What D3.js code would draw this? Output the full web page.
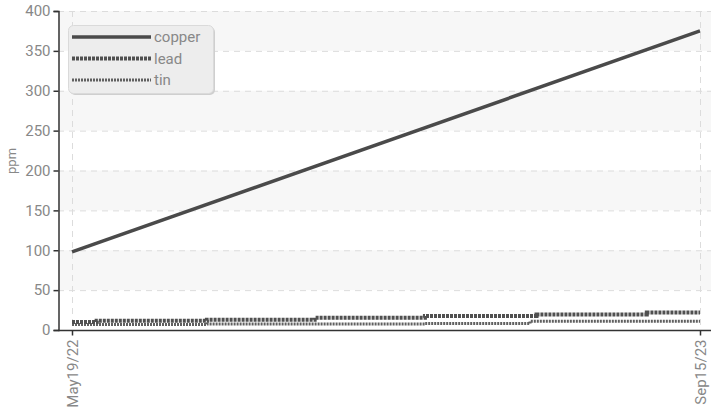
<!DOCTYPE html>
<html>
<head>
<meta charset="utf-8">
<script src="https://cdn.jsdelivr.net/npm/d3@7"></script>
<style>
  body { margin: 0; background: #fff; }
  text { font-family: Roboto, "Liberation Sans Narrow", sans-serif; }
</style>
</head>
<body>
<div id="chart"></div>
<script>
// values
const sampleDates = ["2022-05-19", "2022-06-07", "2022-08-31", "2022-11-22", "2023-02-15", "2023-05-07", "2023-05-12", "2023-08-05", "2023-09-15"];
const leadValues = [10, 11.5, 13, 15.5, 17.5, 17.5, 19.5, 22, 22];
const tinValues = [7, 7, 7.5, 7.5, 8, 11, 11, 11, 11];
const copperDates = ["2022-05-19", "2023-09-15"];
const copperValues = [98, 375];
const yTicks = [0, 50, 100, 150, 200, 250, 300, 350, 400];
const xTickLabels = ["May19/22", "Sep15/23"];
const seriesNames = ["copper", "lead", "tin"];

const parse = d3.timeParse("%Y-%m-%d");

const width = 711, height = 413;
const margin = { left: 58, top: 11, right: 0, bottom: 83 };

const svg = d3.select("#chart").append("svg")
  .attr("width", width)
  .attr("height", height);

const x = d3.scaleTime()
  .domain([parse(copperDates[0]), parse(copperDates[1])])
  .range([72, 700]);
const y = d3.scaleLinear()
  .domain([0, 400])
  .range([height - margin.bottom, margin.top]);

// alternating bands
for (let i = 0; i < yTicks.length - 1; i++) {
  if (i % 2 == 1) {
    svg.append("rect")
      .attr("x", margin.left)
      .attr("y", y(yTicks[i + 1]))
      .attr("width", width - margin.left)
      .attr("height", y(yTicks[i]) - y(yTicks[i + 1]))
      .attr("fill", "#f7f7f7");
  }
}

// grid
svg.append("g").selectAll("line")
  .data(yTicks.slice(1))
  .join("line")
  .attr("x1", margin.left).attr("x2", width)
  .attr("y1", d => y(d) + 0.5).attr("y2", d => y(d) + 0.5)
  .attr("stroke", "#dcdcdc")
  .attr("stroke-dasharray", "6,5");

const xTickDates = copperDates.map(parse);
svg.append("g").selectAll("line")
  .data(xTickDates)
  .join("line")
  .attr("x1", d => x(d) + 0.5).attr("x2", d => x(d) + 0.5)
  .attr("y1", y(400)).attr("y2", y(0))
  .attr("stroke", "#dcdcdc")
  .attr("stroke-dasharray", "6,5");

// axes
const yAxis = svg.append("g")
  .attr("transform", `translate(${margin.left + 0.5},0)`)
  .call(d3.axisLeft(y).tickValues(yTicks).tickSize(5).tickPadding(3));
const xAxis = svg.append("g")
  .attr("transform", `translate(0,${y(0) + 0.5})`)
  .call(d3.axisBottom(x).tickValues(xTickDates).tickSize(5)
    .tickFormat((d, i) => xTickLabels[i]));
xAxis.select(".domain").attr("d", `M${margin.left},0H${width}`);

[yAxis, xAxis].forEach(a => {
  a.select(".domain").attr("stroke", "#333").attr("stroke-width", 1.5);
  a.selectAll(".tick line").attr("stroke", "#333").attr("stroke-width", 1.5);
  a.selectAll("text").attr("fill", "#888").style("font-size", "15px");
});
xAxis.selectAll("text")
  .attr("transform", "rotate(-90)")
  .attr("text-anchor", "end")
  .attr("x", -9)
  .attr("y", 0)
  .attr("dy", "0.35em");

svg.append("text")
  .attr("transform", `translate(16,${y(212)}) rotate(-90)`)
  .attr("text-anchor", "middle")
  .attr("fill", "#888")
  .style("font-size", "13px")
  .text("ppm");

// series
const styles = {
  copper: { color: "#4a4a4a", width: 3.5, dash: null },
  lead: { color: "#505050", width: 4, dash: "3,1" },
  tin: { color: "#606060", width: 3, dash: "2,1" }
};

const leadData = sampleDates.map((d, i) => ({ date: parse(d), value: leadValues[i] }));
const tinData = sampleDates.map((d, i) => ({ date: parse(d), value: tinValues[i] }));
const copperData = copperDates.map((d, i) => ({ date: parse(d), value: copperValues[i] }));

const stepLine = d3.line().curve(d3.curveStepAfter).x(d => x(d.date)).y(d => y(d.value));
const straight = d3.line().x(d => x(d.date)).y(d => y(d.value));

svg.append("path").datum(tinData).attr("d", stepLine)
  .attr("fill", "none").attr("stroke", styles.tin.color)
  .attr("stroke-width", styles.tin.width).attr("stroke-dasharray", styles.tin.dash);
svg.append("path").datum(leadData).attr("d", stepLine)
  .attr("fill", "none").attr("stroke", styles.lead.color)
  .attr("stroke-width", styles.lead.width).attr("stroke-dasharray", styles.lead.dash);
svg.append("path").datum(copperData).attr("d", straight)
  .attr("fill", "none").attr("stroke", styles.copper.color)
  .attr("stroke-width", styles.copper.width);

// legend
const legend = svg.append("g");
legend.append("rect")
  .attr("x", 70).attr("y", 27)
  .attr("width", 145).attr("height", 68)
  .attr("rx", 5)
  .attr("fill", "#cfcfcf");
legend.append("rect")
  .attr("x", 68.5).attr("y", 25.5)
  .attr("width", 145).attr("height", 68)
  .attr("rx", 5)
  .attr("fill", "#ededed")
  .attr("stroke", "#dadada");
seriesNames.forEach((name, i) => {
  const ly = 37 + i * 21.5;
  legend.append("line")
    .attr("x1", 72).attr("x2", 151)
    .attr("y1", ly).attr("y2", ly)
    .attr("stroke", styles[name].color)
    .attr("stroke-width", styles[name].width)
    .attr("stroke-dasharray", styles[name].dash);
  legend.append("text")
    .attr("x", 154).attr("y", ly)
    .attr("dy", "0.35em")
    .attr("fill", "#888")
    .style("font-size", "15px")
    .text(name);
});
</script>
</body>
</html>
